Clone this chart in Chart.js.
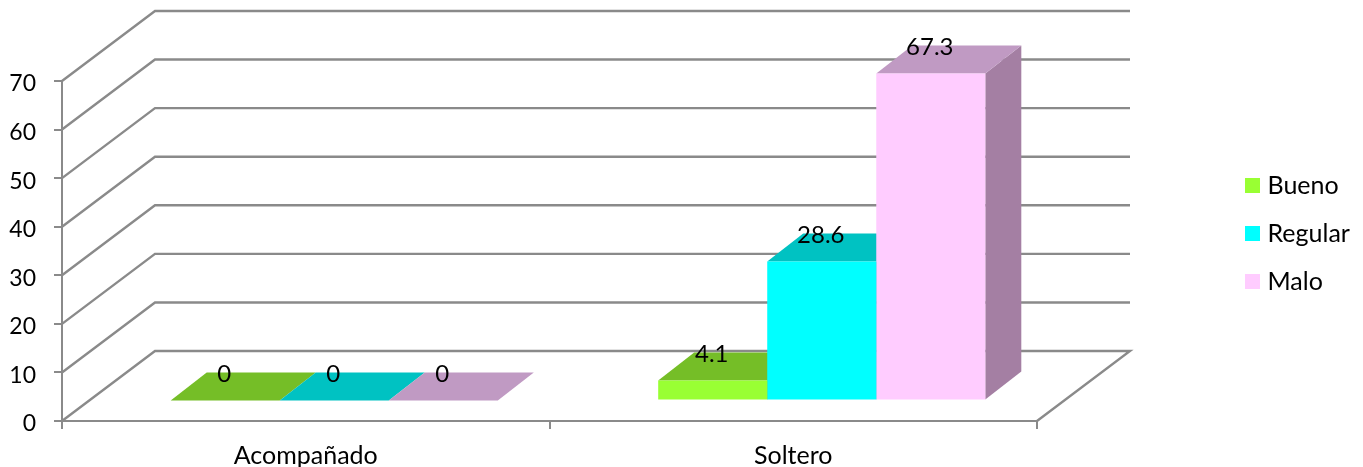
<!DOCTYPE html>
<html>
<head>
<meta charset="utf-8">
<style>
    html, body { margin: 0; padding: 0; background: #fff; }
    canvas { display: block; }
</style>
<script src="https://cdn.jsdelivr.net/npm/chart.js@4/dist/chart.umd.js"></script>
</head>
<body>
<canvas id="barChart" width="1363" height="467"></canvas>
<script>
const categories = ['Acompañado', 'Soltero'];
const bueno = [0, 4.1];
const regular = [0, 28.6];
const malo = [0, 67.3];
const seriesNames = ['Bueno', 'Regular', 'Malo'];
const yMax = 70;
const yStep = 10;

const frontColors = ['#99FF33', '#00FFFF', '#FFCCFF'];
const topColors = ['#75BE27', '#00C2C2', '#C09AC3'];
const sideColors = ['#5C9A1E', '#009C9C', '#A47FA3'];

const lineColor = '#8A8A8A';
const fontFamily = 'Lato, "Open Sans", sans-serif';

// oblique offsets of the fake 3D box
const wall = { dx: 93, dy: -70 };
const barShift = { dx: 28.5, dy: -20.5 };
const barDepth = { dx: 36, dy: -28 };

function face(ctx, points, color) {
    ctx.fillStyle = color;
    ctx.beginPath();
    points.forEach(function (p, i) {
        if (i === 0) ctx.moveTo(p[0], p[1]);
        else ctx.lineTo(p[0], p[1]);
    });
    ctx.closePath();
    ctx.fill();
}

const box3d = {
    id: 'box3d',
    beforeLayout(chart) {
        // room kept free on the right for the back wall
        const legend = chart.legend;
        const fit = legend.fit;
        legend.fit = function () {
            fit.call(this);
            this.width = 326;
        };
    },
    afterLayout(chart) {
        const legend = chart.legend;
        legend.left = 1227;
        legend.top = 0;
        legend.bottom = chart.height;
    },
    beforeDatasetsDraw(chart) {
        const ctx = chart.ctx;
        const area = chart.chartArea;
        const y = chart.scales.y;

        // back wall lines and the diagonals joining them to the axis
        ctx.save();
        ctx.strokeStyle = lineColor;
        ctx.lineWidth = 2.4;
        y.ticks.forEach(function (tick) {
            const py = y.getPixelForValue(tick.value);
            ctx.beginPath();
            ctx.moveTo(area.left, py);
            ctx.lineTo(area.left + wall.dx, py + wall.dy);
            ctx.lineTo(area.right + wall.dx, py + wall.dy);
            if (tick.value === 0) ctx.lineTo(area.right, py);
            ctx.stroke();
        });
        ctx.restore();

        // the bars sit inside the box, everything from here to afterDatasetsDraw is shifted
        ctx.save();
        ctx.translate(barShift.dx, barShift.dy);
        chart.data.datasets.forEach(function (ds, i) {
            chart.getDatasetMeta(i).data.forEach(function (bar) {
                const left = bar.x - bar.width / 2;
                const right = bar.x + bar.width / 2;
                face(ctx, [
                    [right, bar.y],
                    [right + barDepth.dx, bar.y + barDepth.dy],
                    [right + barDepth.dx, bar.base + barDepth.dy],
                    [right, bar.base]
                ], sideColors[i]);
                face(ctx, [
                    [left, bar.y],
                    [left + barDepth.dx, bar.y + barDepth.dy],
                    [right + barDepth.dx, bar.y + barDepth.dy],
                    [right, bar.y]
                ], topColors[i]);
            });
        });
    },
    afterDatasetsDraw(chart) {
        const ctx = chart.ctx;
        ctx.restore();

        // value labels
        ctx.save();
        ctx.fillStyle = '#000';
        ctx.font = '24px ' + fontFamily;
        ctx.textAlign = 'center';
        ctx.textBaseline = 'middle';
        chart.data.datasets.forEach(function (ds, i) {
            chart.getDatasetMeta(i).data.forEach(function (bar, j) {
                ctx.fillText(String(ds.data[j]), bar.x + barShift.dx - 1, bar.y + barShift.dy - 26);
            });
        });
        ctx.restore();
    }
};

const axisGrid = {
    drawOnChartArea: false,
    color: lineColor,
    lineWidth: 2,
    tickLength: 8
};

new Chart(document.getElementById('barChart'), {
    type: 'bar',
    data: {
        labels: categories,
        datasets: [bueno, regular, malo].map(function (values, i) {
            return {
                label: seriesNames[i],
                data: values,
                backgroundColor: frontColors[i],
                borderWidth: 0,
                categoryPercentage: 0.671,
                barPercentage: 1
            };
        })
    },
    options: {
        responsive: false,
        animation: false,
        layout: { padding: { top: 81, right: 0, bottom: 0, left: 0 } },
        scales: {
            x: {
                afterFit(scale) { scale.height = 46; },
                grid: axisGrid,
                border: { color: lineColor, width: 2 },
                ticks: { color: '#000', font: { family: fontFamily, size: 25 }, padding: 12, maxRotation: 0 }
            },
            y: {
                min: 0,
                max: yMax,
                afterFit(scale) { scale.width = 62; },
                grid: axisGrid,
                border: { color: lineColor, width: 2 },
                ticks: { stepSize: yStep, color: '#000', font: { family: fontFamily, size: 23 }, padding: 18, labelOffset: 3 }
            }
        },
        plugins: {
            tooltip: { enabled: false },
            legend: {
                position: 'right',
                labels: {
                    color: '#000',
                    font: { family: fontFamily, size: 25 },
                    padding: 23,
                    boxWidth: 5,
                    boxHeight: 5,
                    // small box with a thick stroke keeps the text close to the swatch
                    generateLabels(chart) {
                        return chart.data.datasets.map(function (ds, i) {
                            return {
                                text: ds.label,
                                fillStyle: ds.backgroundColor,
                                strokeStyle: ds.backgroundColor,
                                lineWidth: 10,
                                fontColor: '#000',
                                datasetIndex: i
                            };
                        });
                    }
                }
            }
        }
    },
    plugins: [box3d]
});
</script>
</body>
</html>
